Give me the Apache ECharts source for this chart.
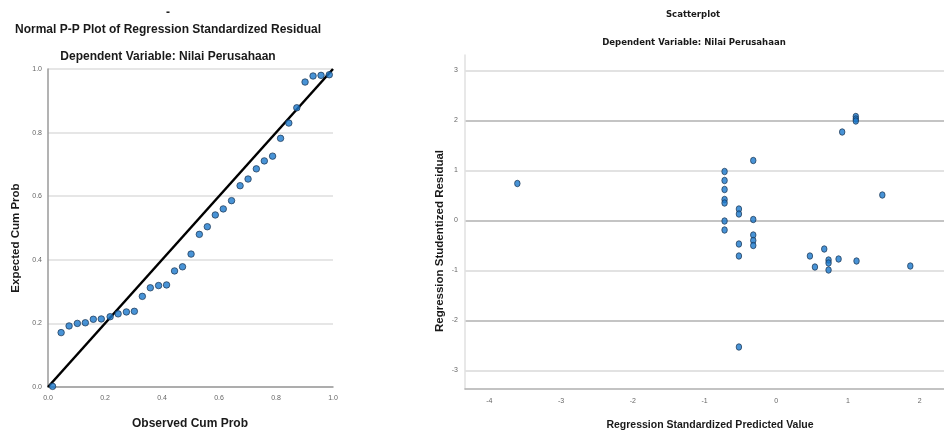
<!DOCTYPE html>
<html><head><meta charset="utf-8">
<script src="https://cdn.jsdelivr.net/npm/echarts@6/dist/echarts.min.js"></script>
<style>html,body{margin:0;padding:0;background:#fff}#c{width:944px;height:432px}</style>
</head><body><div id="c"></div>
<script>
// Left: Normal P-P plot
var ppObserved = [0.016,0.046,0.074,0.103,0.131,0.159,0.187,0.218,0.246,0.275,0.303,0.331,0.359,0.388,0.416,0.444,0.472,0.502,0.531,0.559,0.587,0.615,0.644,0.674,0.702,0.731,0.759,0.788,0.816,0.845,0.873,0.902,0.930,0.958,0.987];
var ppExpected = [0.002,0.171,0.192,0.200,0.202,0.213,0.214,0.221,0.230,0.236,0.238,0.285,0.312,0.319,0.321,0.365,0.378,0.418,0.480,0.504,0.541,0.560,0.586,0.633,0.654,0.686,0.711,0.726,0.782,0.830,0.878,0.959,0.978,0.980,0.982];
var ppTicks = [0, 0.2, 0.4, 0.6, 0.8, 1.0];
var refLine = [[0,0],[1,1]];
// Right: Scatterplot
var predValue = [1.11,1.11,1.11,0.92,-0.32,-0.72,-0.72,-0.72,-0.72,-0.72,1.48,-0.52,-0.52,-0.72,-0.72,-0.32,-0.32,-0.32,-0.32,-0.52,-0.52,0.47,0.67,0.54,0.73,0.73,0.73,0.87,1.12,1.87,-0.52,-3.61];
var studResid = [2.08,2.03,1.99,1.77,1.20,0.98,0.80,0.62,0.42,0.35,0.51,0.23,0.13,-0.01,-0.19,0.02,-0.29,-0.40,-0.50,-0.47,-0.71,-0.71,-0.57,-0.93,-0.79,-0.85,-0.99,-0.77,-0.81,-0.91,-2.53,0.74];
var xTicksR = [-4,-3,-2,-1,0,1,2];
var yTicksR = [-3,-2,-1,0,1,2,3];

var ppData = ppObserved.map(function(v,i){return [v, ppExpected[i]];});
var scData = predValue.map(function(v,i){return [v, studResid[i]];});

var chart = echarts.init(document.getElementById('c'), null, {renderer:'canvas'});
var tickFont = {fontSize:7, color:'#666', fontFamily:'Liberation Sans'};
var ptStyle = {color:'#1a78cc', borderColor:'#1c3450', borderWidth:0.9};
var narrow = "'DejaVu Sans Condensed', 'Liberation Sans', sans-serif";
chart.setOption({
  animation:false,
  backgroundColor:'#fff',
  grid:[
    {left:48, top:69, width:285, height:318},
    {left:465, top:55, width:490, height:334}
  ],
  xAxis:[
    {gridIndex:0, type:'value', min:0, max:1, interval:0.2,
     axisLine:{show:true, lineStyle:{color:'#9a9a9a', width:1.5}}, axisTick:{show:false},
     splitLine:{show:false},
     axisLabel:Object.assign({margin:8, formatter:function(v){return v.toFixed(1);}}, tickFont)},
    {gridIndex:1, type:'value', min:-4.34, max:2.34,
     axisLine:{show:true, onZero:false, lineStyle:{color:'#b0b0b0', width:1.5}},
     axisTick:{show:false, customValues:xTicksR},
     splitLine:{show:false},
     axisLabel:Object.assign({margin:9, customValues:xTicksR}, tickFont)}
  ],
  yAxis:[
    {gridIndex:0, type:'value', min:0, max:1, interval:0.2,
     axisLine:{show:true, lineStyle:{color:'#9a9a9a', width:1.5}}, axisTick:{show:false},
     splitLine:{show:true, lineStyle:{color:'#dedede', width:1.5}},
     axisLabel:Object.assign({margin:6, formatter:function(v){return v.toFixed(1);}}, tickFont)},
    {gridIndex:1, type:'value', min:-3.37, max:3.31,
     axisLine:{show:true, onZero:false, lineStyle:{color:'#e0e0e0', width:1.5}},
     axisTick:{show:false, customValues:yTicksR},
     splitLine:{show:true, lineStyle:{color:['#e2e2e2','#c4c4c4'], width:2}},
     axisLabel:Object.assign({margin:7, customValues:yTicksR}, tickFont)}
  ],
  series:[
    {type:'line', xAxisIndex:0, yAxisIndex:0, data:refLine, symbol:'none',
     lineStyle:{color:'#000', width:2.5}, z:3},
    {type:'scatter', xAxisIndex:0, yAxisIndex:0, data:ppData, symbol:'circle', symbolSize:6.5,
     itemStyle:ptStyle, z:4},
    {type:'scatter', xAxisIndex:1, yAxisIndex:1, data:scData, symbol:'circle', symbolSize:[5.5,6.5],
     itemStyle:ptStyle, z:4}
  ],
  graphic:[
    {type:'text', left:166, top:7, style:{text:'-', fontSize:12, fontWeight:'bold', fill:'#222', fontFamily:'Liberation Sans'}},
    {type:'text', x:168, y:30, style:{text:'Normal P-P Plot of Regression Standardized Residual', align:'center', verticalAlign:'middle', fontSize:12, fontWeight:'bold', fill:'#1a1a1a', fontFamily:'Liberation Sans'}},
    {type:'text', x:168, y:57, style:{text:'Dependent Variable: Nilai Perusahaan', align:'center', verticalAlign:'middle', fontSize:12, fontWeight:'bold', fill:'#1a1a1a', fontFamily:'Liberation Sans'}},
    {type:'text', x:190, y:424, style:{text:'Observed Cum Prob', align:'center', verticalAlign:'middle', fontSize:12, fontWeight:'bold', fill:'#1a1a1a', fontFamily:'Liberation Sans'}},
    {type:'text', x:16, y:238, rotation:Math.PI/2, style:{text:'Expected Cum Prob', align:'center', verticalAlign:'middle', fontSize:11.5, fontWeight:'bold', fill:'#1a1a1a', fontFamily:'Liberation Sans'}},
    {type:'text', x:693, y:15, style:{text:'Scatterplot', align:'center', verticalAlign:'middle', fontSize:9.5, fill:'#1a1a1a', fontFamily:narrow, fontWeight:'bold'}},
    {type:'text', x:694, y:43, style:{text:'Dependent Variable: Nilai Perusahaan', align:'center', verticalAlign:'middle', fontSize:9.5, fill:'#1a1a1a', fontFamily:narrow, fontWeight:'bold'}},
    {type:'text', x:710, y:425, style:{text:'Regression Standardized Predicted Value', align:'center', verticalAlign:'middle', fontSize:10.5, fontWeight:'bold', fill:'#1a1a1a', fontFamily:'Liberation Sans'}},
    {type:'text', x:440, y:241, rotation:Math.PI/2, style:{text:'Regression Studentized Residual', align:'center', verticalAlign:'middle', fontSize:11.5, fontWeight:'bold', fill:'#1a1a1a', fontFamily:'Liberation Sans'}}
  ]
});
</script></body></html>
